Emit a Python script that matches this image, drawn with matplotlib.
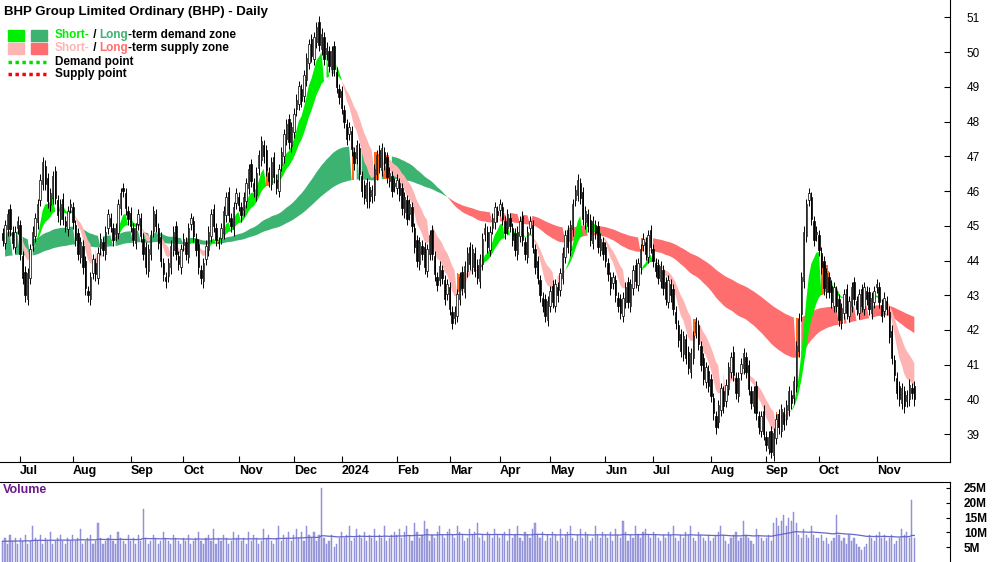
import numpy as np
import matplotlib
matplotlib.use("Agg")
import matplotlib.pyplot as plt
from matplotlib.patches import Rectangle
from matplotlib.lines import Line2D

plt.rcParams['font.family'] = ['Liberation Sans', 'DejaVu Sans']

months = ["Jun23","Jul","Aug","Sep","Oct","Nov","Dec","2024","Feb","Mar","Apr","May","Jun","Jul","Aug","Sep","Oct","Nov"]
closes_by_month = [
 [44.6,45.0,45.3,44.9,44.5,44.8,45.1],
 [44.2,43.5,43.0,43.6,44.3,44.8,45.2,45.6,46.3,46.8,46.2,45.7,45.9,46.4,45.8,45.3,45.6,45.2,45.0,45.4,45.6],
 [45.1,44.6,44.2,44.5,43.8,43.2,43.0,43.5,44.0,43.6,44.2,44.6,44.3,44.8,45.3,45.0,44.6,44.9,45.6,45.9,46.0,45.5,45.2],
 [45.0,44.6,44.9,45.3,44.7,44.2,43.8,44.3,44.7,45.4,45.0,44.5,44.0,43.6,43.4,43.9,44.4,44.8,44.2,43.9,44.3],
 [44.6,44.2,44.9,45.2,44.7,44.3,43.8,43.5,43.9,44.4,44.8,45.3,45.0,44.6,44.5,44.9,45.4,45.8,45.3,45.0,45.5,45.9],
 [45.6,45.3,45.8,46.2,46.6,46.3,46.0,46.5,47.0,47.4,47.0,46.6,46.3,46.8,46.4,46.1,46.6,47.1,47.6,47.9,47.4,47.8],
 [48.2,48.6,49.0,48.6,49.3,49.8,50.2,49.9,50.4,50.7,50.2,50.5,49.8,50.1,49.6,50.0,49.5,49.0,48.7],
 [48.4,48.0,47.5,47.8,47.2,46.8,47.3,46.5,46.0,45.8,46.2,45.7,46.0,46.6,47.0,46.7,47.2,46.8,46.4,46.5,46.0,46.2],
 [46.3,45.9,45.5,45.8,45.2,45.6,45.0,44.4,44.0,44.5,44.2,43.8,44.3,44.7,44.2,43.6,43.3,43.8,43.5,42.9,43.3],
 [42.6,42.2,42.5,43.0,43.5,43.2,43.8,44.2,43.9,44.3,43.7,43.5,44.0,44.6,44.9,44.4,44.8,45.2,45.5,45.3],
 [45.6,45.2,44.8,45.3,45.0,44.6,44.3,44.8,45.1,44.6,44.2,44.8,45.1,44.4,43.8,43.5,43.0,42.7,42.4,42.8],
 [43.1,42.8,43.3,43.0,43.6,44.2,44.7,44.4,45.0,45.6,46.0,46.3,45.8,45.2,45.4,45.0,44.6,45.1,44.8,44.4,44.6,44.2],
 [44.0,43.6,43.2,43.5,43.0,42.7,42.5,42.9,43.2,42.8,43.3,43.7,43.4,43.9,44.3,44.6,44.2,44.7,44.4],
 [44.0,43.7,43.5,43.8,43.2,42.9,43.4,43.0,42.6,42.2,41.7,41.4,41.8,41.2,40.9,41.3,41.8,42.2,41.6,41.0,40.6,40.9,40.4],
 [40.1,39.6,39.2,39.8,40.3,39.8,40.4,40.9,41.2,40.7,40.2,40.6,41.0,41.3,40.8,40.3,39.9,40.2,39.6,39.2,39.5,39.0],
 [38.7,38.9,38.5,39.0,39.4,39.2,39.7,39.3,39.8,40.2,39.9,40.5,41.5,42.3,43.5,44.8,45.6,45.9,45.2,44.6,44.8],
 [44.3,43.8,43.2,43.6,43.1,42.8,43.2,42.7,42.3,42.6,43.0,42.5,42.8,43.2,42.9,42.6,43.0,42.7,43.2,42.9,42.6,42.9,43.1],
 [43.3,42.8,42.4,42.9,42.6,41.8,41.2,40.7,40.2,40.0,40.3,39.8,40.1,40.4,40.2,40.0],
]
volume_by_month = [
 "7 8 6 9 7 8 6",
 "8 7 9 6 7 12 8 7 9 6 8 7 10 6 7 8 9 7 6 8 7",
 "9 7 8 11 6 7 8 9 6 7 13 8 6 7 8 9 7 6 10 8 7 6 9",
 "7 8 6 9 7 18 8 6 7 9 8 6 7 10 8 7 6 9 8 7 6",
 "8 7 9 6 7 8 10 7 6 8 9 7 11 6 8 7 9 8 6 7 10 8",
 "9 7 8 6 10 7 9 8 6 7 11 8 9 7 6 8 12 7 9 8 10 7",
 "9 11 8 10 7 12 9 8 10 7 9 25 8 6 7 9 5 6 8",
 "10 8 9 12 7 8 11 9 8 10 7 9 8 11 7 9 8 12 7 8 9 10",
 "9 11 8 10 12 9 7 13 10 8 9 14 11 7 9 8 10 12 9 8 10",
 "11 9 8 12 10 9 7 8 11 9 10 13 8 9 7 10 9 8 11 9",
 "8 9 10 7 11 8 9 12 8 7 10 9 8 11 13 9 8 10 7 9",
 "8 10 9 7 11 8 9 10 12 8 7 9 11 8 10 9 7 8 12 9 8 10",
 "9 8 10 7 11 9 8 14 10 7 9 8 12 9 8 10 11 9 8",
 "10 9 8 7 9 8 10 9 12 8 7 9 8 10 9 12 8 7 10 9 8 7 9",
 "7 8 9 10 12 9 7 6 8 9 10 7 8 14 9 8 7 6 11 9 8 7",
 "8 9 7 13 15 12 14 16 12 15 14 17 13 9 8 11 9 8 12 9 8",
 "8 9 7 8 6 7 8 16 9 7 8 6 9 7 8 6 5 4 5 6 9 8 7",
 "9 10 8 9 7 8 9 6 7 8 11 9 10 8 21 8",
]

closes = np.array([c for m in closes_by_month for c in m])
volume = np.array([float(v) for m in volume_by_month for v in m.split()])
n = len(closes)
idx = np.arange(n)
month_start = np.cumsum([0] + [len(m) for m in closes_by_month])[:-1]
opens = np.concatenate([[closes[0]], closes[:-1]]) + np.where(idx % 3 == 0, 0.15, -0.1)
highs = np.maximum(opens, closes) + 0.18
lows = np.minimum(opens, closes) - 0.18

def ema(x, span, init=None):
    a = 2 / (span + 1)
    out = np.empty_like(x)
    out[0] = x[0] if init is None else init
    for i in range(1, len(x)):
        out[i] = a * x[i] + (1 - a) * out[i - 1]
    return out

s1, s2 = ema(closes, 8), ema(closes, 18)
l1, l2 = ema(closes, 75, 44.7), ema(closes, 140, 44.1)

fig = plt.figure(figsize=(10, 5.62), dpi=100)
ax = fig.add_axes([0, 100/562, 0.95, 462/562])
axv = fig.add_axes([0, 0, 0.95, 80/562])

GREEN, DGREEN, PINK, RED, ORANGE = "#00ee00", "#3cb371", "#ffb4b4", "#ff6e6e", "#ff6a1a"

def zone(a, b, upc, dnc):
    lo, hi = np.minimum(a, b), np.maximum(a, b)
    up = a >= b
    inside = (closes >= lo) & (closes <= hi)
    ax.fill_between(idx, lo, hi, where=up & ~inside, color=upc, lw=0, interpolate=True)
    ax.fill_between(idx, lo, hi, where=~up & ~inside, color=dnc, lw=0, interpolate=True)
    ax.fill_between(idx, lo, hi, where=inside, color=ORANGE, lw=0, step="mid")

zone(l1, l2, DGREEN, RED)
zone(s1, s2, GREEN, PINK)

upc = closes >= opens
ax.vlines(idx, lows, highs, color="black", lw=0.7, zorder=3)
ax.bar(idx, np.abs(closes - opens) + 0.03, bottom=np.minimum(opens, closes), width=0.55,
       color=np.where(upc, "white", "black"), edgecolor="black", lw=0.5, zorder=4)

ax.set_xlim(-1, n / 0.965)
ax.set_ylim(38.2, 51.5)
ax.yaxis.tick_right()
ax.set_yticks(range(39, 52))
ax.tick_params(axis="y", labelsize=8.5, direction="in", length=4, pad=12)
ax.set_xticks(month_start[1:])
ax.set_xticklabels(months[1:], fontsize=9, fontweight="bold")
ax.tick_params(axis="x", direction="in", length=4, pad=2)
for lab in ax.get_xticklabels():
    lab.set_horizontalalignment("left")
for s in ["left", "top"]:
    ax.spines[s].set_visible(False)

def px(x, y):
    return x / 1000, 1 - y / 562
fig.text(*px(4, 12), "BHP Group Limited Ordinary (BHP) - Daily", fontsize=9.5, fontweight="bold", va="center")
for (x, c) in [(8, GREEN), (31, DGREEN)]:
    fig.patches.append(Rectangle(px(x, 41), 16/1000, 11/562, color=c, transform=fig.transFigure))
for (x, c) in [(8, PINK), (31, RED)]:
    fig.patches.append(Rectangle(px(x, 54), 16/1000, 11/562, color=c, transform=fig.transFigure))
fig.lines.append(Line2D([8/1000, 46/1000], [1-62/562]*2, color="#00dd00", ls=(0, (1, 1)), lw=2.5, transform=fig.transFigure))
fig.lines.append(Line2D([8/1000, 46/1000], [1-74/562]*2, color="red", ls=(0, (1, 1)), lw=2.5, transform=fig.transFigure))
kw = dict(fontsize=8.5, fontweight="bold", va="center")
renderer = fig.canvas.get_renderer()

def chain(y, parts):
    x = 55
    for s, c in parts:
        t = fig.text(*px(x, y), s, color=c, **kw)
        x += t.get_window_extent(renderer).width

chain(35, [("Short-", GREEN), (" / ", "black"), ("Long", DGREEN), ("-term demand zone", "black")])
chain(48, [("Short-", PINK), (" / ", "black"), ("Long", RED), ("-term supply zone", "black")])
chain(62, [("Demand point", "black")])
chain(74, [("Supply point", "black")])

axv.bar(idx, volume, width=0.45, color="#a0a0e0", edgecolor="#8080d0", lw=0.3)
axv.plot(idx, ema(volume, 60), color="#6666cc", lw=0.9)
axv.set_xlim(ax.get_xlim())
axv.set_ylim(0, 27)
axv.yaxis.tick_right()
axv.set_yticks([5, 10, 15, 20, 25])
axv.set_yticklabels(["5M", "10M", "15M", "20M", "25M"], fontsize=8.5, fontweight="bold")
axv.tick_params(axis="y", direction="in", length=3, pad=10)
axv.set_xticks([])
for s in ["left", "bottom"]:
    axv.spines[s].set_visible(False)
axv.text(0.003, 0.97, "Volume", transform=axv.transAxes, fontsize=9, fontweight="bold",
         color="#6a1a8a", va="top")
fig.savefig("out.png", dpi=100)
